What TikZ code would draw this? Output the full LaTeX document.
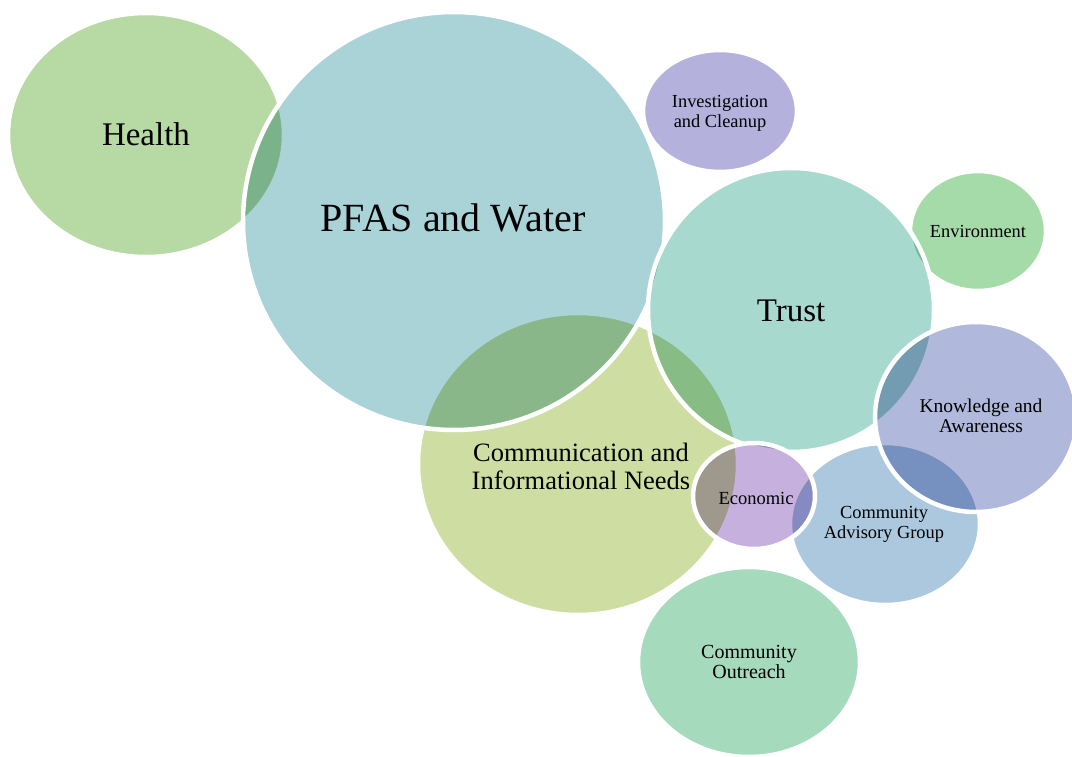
\documentclass[tikz,border=0pt]{standalone}
\usepackage{fontspec}
\setmainfont{Liberation Serif}

% bubble colours
\definecolor{healthgreen}{RGB}{183,217,163}
\definecolor{pfasblue}{RGB}{170,211,215}
\definecolor{commyellow}{RGB}{206,222,163}
\definecolor{envgreen}{RGB}{165,219,168}
\definecolor{trustteal}{RGB}{168,217,207}
\definecolor{investlilac}{RGB}{180,178,220}
\definecolor{cagblue}{RGB}{172,200,222}
\definecolor{knowblue}{RGB}{176,184,220}
\definecolor{econpurple}{RGB}{198,176,221}
\definecolor{outreachgreen}{RGB}{165,218,188}

\tikzset{
  rim/.style={draw=white, line width=4.5pt},
  bigtext/.style={align=center, inner sep=0pt, font=\fontsize{33}{36}\selectfont},
  smalltext/.style={align=center, inner sep=0pt, font=\fontsize{18.4}{20}\selectfont}
}

\begin{document}
\begin{tikzpicture}[x=1pt, y=-1pt]
            \useasboundingbox (0,0) rectangle (1072,757);

            % Bubbles, drawn back to front, each one with a white rim
            \foreach \cx/\cy/\rx/\ry/\col in {
                146/135/138/122/healthgreen,
                578/464/160/151/commyellow,
                454/221/211/209/pfasblue,
                978/231/68/60/envgreen,
                791/310/143/142/trustteal,
                720/111/77/61/investlilac,
                885/524/95/81/cagblue,
                976/417/101/95/knowblue,
                754/496/61/53/econpurple,
                749/662/111/95/outreachgreen} {
                \begin{scope}[blend mode=multiply]
                    \fill[\col] (\cx,\cy) ellipse [x radius=\rx, y radius=\ry];
                \end{scope}
                \draw[rim] (\cx,\cy) ellipse [x radius=\rx, y radius=\ry];
            }

            % Labels
            \node[bigtext] (health) at (146,134) {Health};
            \node[bigtext, font=\fontsize{40}{42}\selectfont] (pfas) at (453,218) {PFAS and Water};
            \node[bigtext] (trust) at (791,311) {Trust};
            \node[bigtext, font=\fontsize{26.5}{28}\selectfont] (comm) at (581,466) {Communication and\\Informational Needs};
            \node[smalltext] (invest) at (720,113) {Investigation\\and Cleanup};
            \node[smalltext] (env) at (978,231) {Environment};
            \node[smalltext, font=\fontsize{19.5}{20}\selectfont] (know) at (981,416) {Knowledge and\\Awareness};
            \node[smalltext, font=\fontsize{18.5}{20}\selectfont] (econ) at (756,498) {Economic};
            \node[smalltext] (cag) at (884,524) {Community\\Advisory Group};
            \node[smalltext, font=\fontsize{20}{20}\selectfont] (outreach) at (749,662) {Community\\Outreach};
        \end{tikzpicture}
\end{document}
